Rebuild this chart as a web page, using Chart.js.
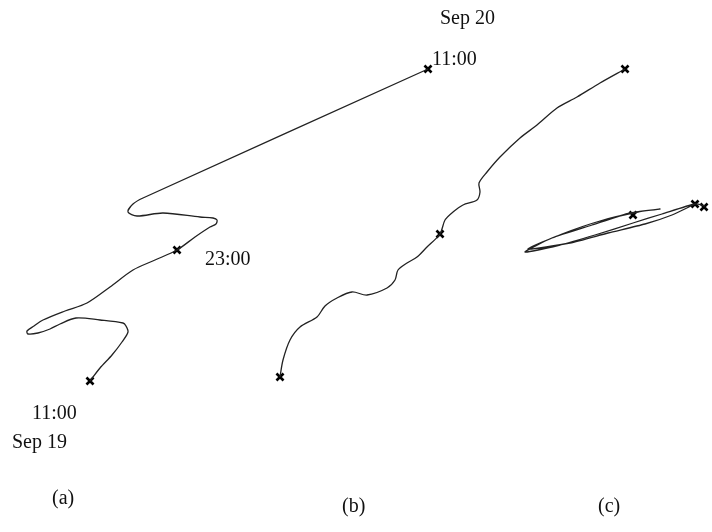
<!DOCTYPE html>
<html>
<head>
<meta charset="utf-8">
<script src="https://cdn.jsdelivr.net/npm/chart.js@4"></script>
<style>
  body { margin: 0; background: #fff; }
  #wrap { position: relative; width: 712px; height: 532px; }
  .lbl { position: absolute; font-family: "Liberation Serif", "DejaVu Serif", serif; font-size: 20px; color: #111; white-space: nowrap; line-height: 1; }
</style>
</head>
<body>
<div id="wrap">
  <canvas id="trackChart" width="712" height="532"></canvas>
  <div class="lbl" style="left:440px;top:7px;">Sep 20</div>
  <div class="lbl" style="left:432px;top:48px;">11:00</div>
  <div class="lbl" style="left:205px;top:248px;">23:00</div>
  <div class="lbl" style="left:32px;top:402px;">11:00</div>
  <div class="lbl" style="left:12px;top:431px;">Sep 19</div>
  <div class="lbl" style="left:52px;top:487px;">(a)</div>
  <div class="lbl" style="left:342px;top:495px;">(b)</div>
  <div class="lbl" style="left:598px;top:495px;">(c)</div>
</div>
<script>
// track (a): x/y (picture pixel units)
const trackAX = [90, 100, 112, 122, 128, 126, 123, 100, 76, 60, 50, 38, 28, 27, 34, 43, 65, 87, 110, 133, 155, 177, 195, 210, 216, 217, 213, 200, 163, 137, 128, 133, 143, 428];
const trackAY = [381, 368, 355, 342, 332, 326, 323, 320, 318, 324, 329, 333, 334, 331, 326, 320, 311, 303, 287, 270, 260, 250, 237, 227, 224, 220, 218, 217, 213, 216, 212, 204, 198, 69];
const marksA = [[90, 381], [177, 250], [428, 69]];

// track (b)
const trackBX = [280, 283, 290, 300, 317, 325, 337, 352, 367, 387, 395, 398, 407, 417, 427, 440, 445, 453, 463, 477, 480, 479, 487, 500, 520, 537, 557, 577, 600, 625];
const trackBY = [377, 360, 340, 327, 317, 306, 298, 292, 295, 288, 280, 270, 263, 257, 247, 234, 220, 212, 205, 200, 192, 183, 172, 157, 138, 125, 108, 97, 83, 69];
const marksB = [[280, 377], [440, 234], [625, 69]];

// track (c): thin looping ellipse
const trackCX = [705, 695, 662, 633, 595, 560, 525, 552, 592, 630, 660, 638, 600, 562, 528, 570, 608, 645, 672, 695];
const trackCY = [206, 204, 214, 223, 235, 245, 252, 238, 225, 213, 209, 212, 221, 234, 249, 243, 233, 224, 215, 204];
const marksC = [[633, 215], [695, 204], [704, 207]];

const toPts = (xs, ys) => xs.map((x, i) => ({ x: x, y: ys[i] }));
const toMarks = (arr) => arr.map((p) => ({ x: p[0], y: p[1] }));

const lineSet = (xs, ys, tension) => ({
  data: toPts(xs, ys),
  showLine: true,
  borderColor: "#222",
  borderWidth: 1.3,
  pointRadius: 0,
  tension: tension,
  clip: false,
});

const markSet = (arr) => ({
  data: toMarks(arr),
  showLine: false,
  pointStyle: "crossRot",
  pointRadius: 5,
  borderColor: "#000",
  borderWidth: 2.6,
  clip: false,
});

new Chart(document.getElementById("trackChart"), {
  type: "scatter",
  data: {
    datasets: [
      lineSet(trackAX, trackAY, 0.3),
      lineSet(trackBX, trackBY, 0.3),
      lineSet(trackCX, trackCY, 0.2),
      markSet(marksA),
      markSet(marksB),
      markSet(marksC),
    ],
  },
  options: {
    responsive: false,
    animation: false,
    layout: { padding: 0, autoPadding: false },
    plugins: { legend: { display: false }, tooltip: { enabled: false } },
    scales: {
      x: { type: "linear", min: 0, max: 712, display: false },
      y: { type: "linear", min: 0, max: 532, reverse: true, display: false },
    },
  },
});
</script>
</body>
</html>
